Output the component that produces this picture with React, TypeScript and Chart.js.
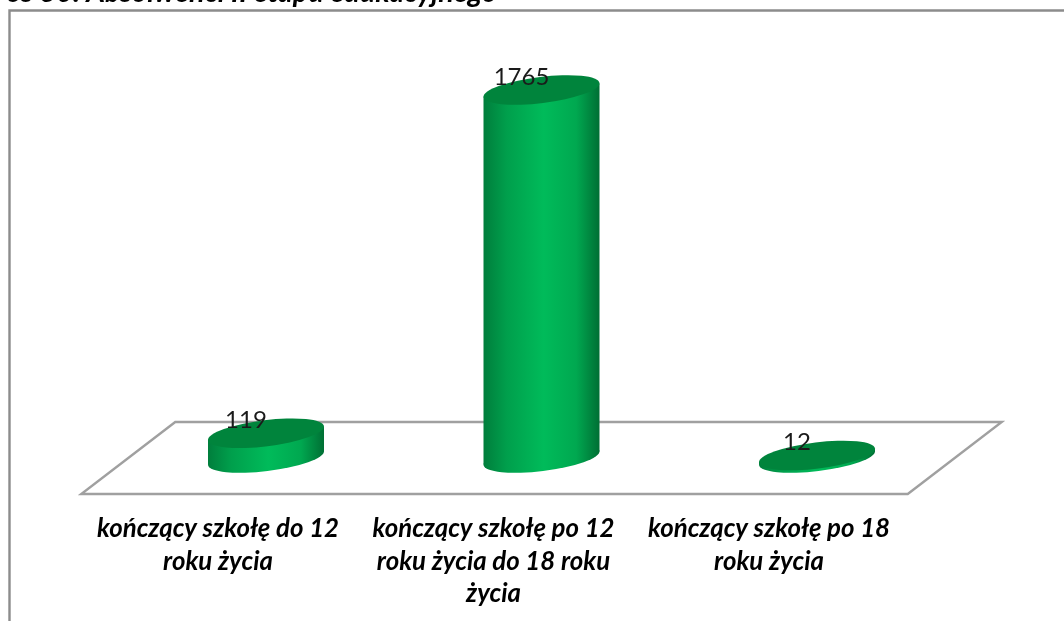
import { useEffect, useRef } from "react";
import { Chart, registerables } from "chart.js";

Chart.register(...registerables);

const categories = [
  ["kończący szkołę do 12", "roku życia"],
  ["kończący szkołę po 12", "roku życia do 18 roku", "życia"],
  ["kończący szkołę po 18", "roku życia"],
];
const values = [119, 1765, 12];
const titleText = "os 30. Absolwenci II etapu edukacyjnego";

const TILT = (7 * Math.PI) / 180;
const SHEAR = 47;
const DEPTH = 36;

const scene = {
  id: "scene",
  beforeDraw(chart: any) {
    const c = chart.ctx;
    c.save();
    c.fillStyle = "#fff";
    c.fillRect(0, 0, chart.width, chart.height);
    c.strokeStyle = "#8c8c8c";
    c.lineWidth = 2.4;
    c.beginPath();
    c.moveTo(9.5, chart.height);
    c.lineTo(9.5, 10.5);
    c.lineTo(chart.width, 10.5);
    c.stroke();
    c.font = "italic bold 28.8px Lato";
    c.fillStyle = "#000";
    c.textAlign = "right";
    c.textBaseline = "alphabetic";
    c.fillText(titleText, 497, 2);
    const { left, right, bottom } = chart.chartArea;
    c.strokeStyle = "#a0a0a0";
    c.lineWidth = 2.4;
    c.lineJoin = "miter";
    c.beginPath();
    c.moveTo(left - SHEAR, bottom + DEPTH);
    c.lineTo(right - SHEAR, bottom + DEPTH);
    c.lineTo(right + SHEAR, bottom - DEPTH);
    c.lineTo(left + SHEAR, bottom - DEPTH);
    c.closePath();
    c.stroke();
    c.restore();
  },
  afterDatasetsDraw(chart: any) {
    const c = chart.ctx;
    const bars = chart.getDatasetMeta(0).data;
    bars.forEach((bar: any, i: number) => {
      const xr = bar.width / 2;
      const a = xr * 1.007;
      const b = xr * 0.225;
      const dy = xr * 0.11;
      const top = bar.y;
      const base = bar.base;
      const g = c.createLinearGradient(bar.x - xr, 0, bar.x + xr, 0);
      g.addColorStop(0, "#007e3c");
      g.addColorStop(0.2, "#009f4c");
      g.addColorStop(0.52, "#00bb5a");
      g.addColorStop(0.8, "#00a850");
      g.addColorStop(1, "#006f34");
      c.save();
      c.fillStyle = g;
      c.beginPath();
      c.ellipse(bar.x, base, a, b, -TILT, 0, Math.PI * 2);
      c.fill();
      c.beginPath();
      c.moveTo(bar.x - xr, top + dy);
      c.lineTo(bar.x - xr, base + dy);
      c.lineTo(bar.x + xr, base - dy);
      c.lineTo(bar.x + xr, top - dy);
      c.closePath();
      c.fill();
      c.fillStyle = "#00843c";
      c.beginPath();
      c.ellipse(bar.x, top, a, b, -TILT, 0, Math.PI * 2);
      c.fill();
      c.font = "24px Lato";
      c.fillStyle = "#1a1a1a";
      c.textAlign = "center";
      c.textBaseline = "middle";
      c.fillText(String(values[i]), bar.x - 20, top - 13);
      c.restore();
    });
  },
};

export default function App() {
  const ref = useRef<HTMLCanvasElement>(null);
  useEffect(() => {
    const chart = new Chart(ref.current as HTMLCanvasElement, {
      type: "bar",
      data: {
        labels: categories,
        datasets: [
          {
            data: values,
            backgroundColor: "rgba(0,0,0,0)",
            barThickness: 116,
          },
        ],
      },
      options: {
        animation: false,
        responsive: false,
        layout: { padding: { left: 128.25, right: 109.25, top: 41, bottom: 0 } },
        plugins: { legend: { display: false }, tooltip: { enabled: false } },
        scales: {
          y: { display: false, min: 0, max: 2000 },
          x: {
            grid: { display: false, drawTicks: false },
            border: { display: false },
            afterFit(scale: any) {
              scale.height = 163;
            },
            ticks: {
              autoSkip: false,
              maxRotation: 0,
              minRotation: 0,
              labelOffset: -48,
              padding: 55,
              color: "#000",
              font: { family: "Lato", size: 25.8, style: "italic", weight: "bold", lineHeight: 1.25 },
            },
          },
        },
      },
      plugins: [scene],
    });
    return () => chart.destroy();
  }, []);
  return (
    <canvas
      ref={ref}
      width={1064}
      height={621}
      style={{ position: "absolute", left: 0, top: 0, width: 1064, height: 621, filter: "blur(0.4px)" }}
    />
  );
}
